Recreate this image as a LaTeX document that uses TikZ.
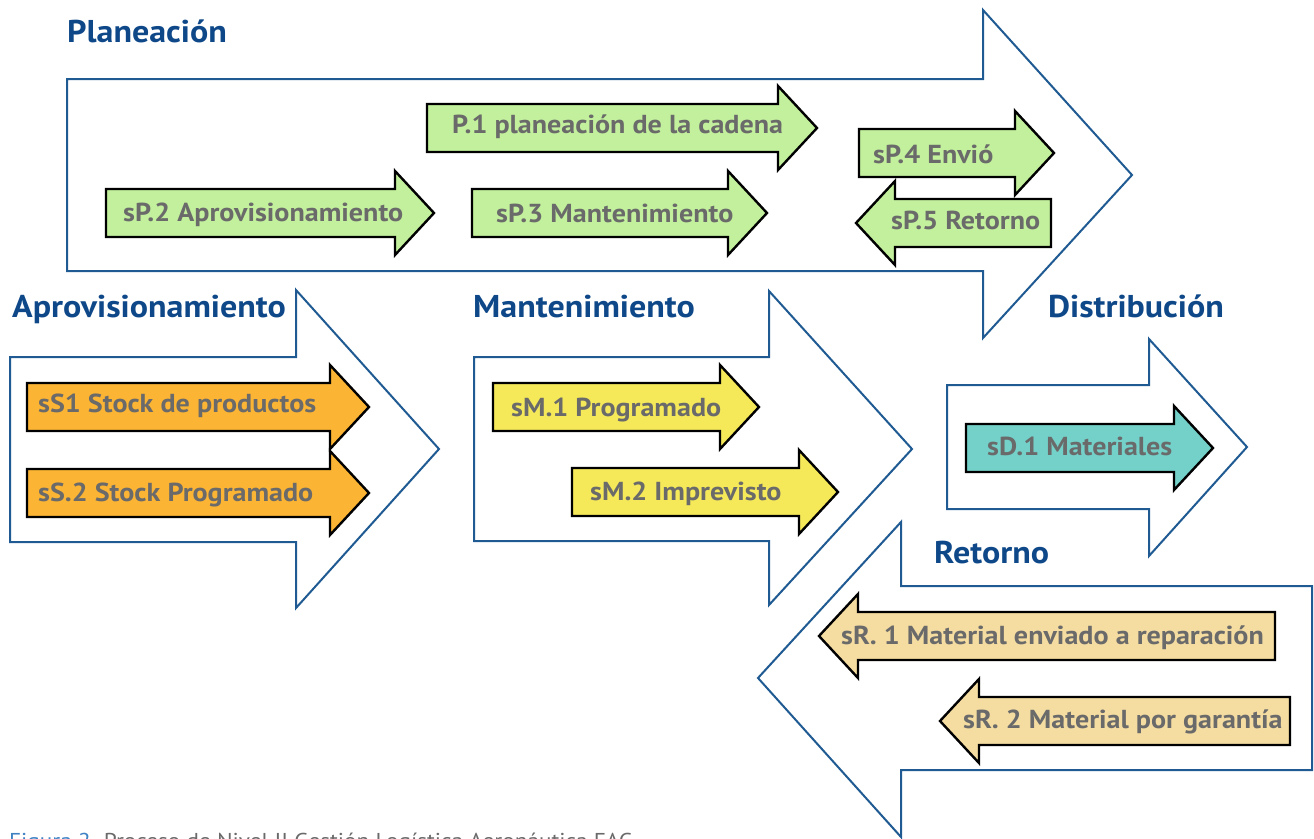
\documentclass[tikz,border=0pt]{standalone}
\usepackage{fontspec}
\setmainfont{PT Sans}[FakeStretch=1.08]
\usetikzlibrary{arrows.meta}
\definecolor{frame}{HTML}{1F5B92}
\definecolor{titleblue}{HTML}{0E4888}
\definecolor{textgray}{HTML}{6A6A6A}
\definecolor{leaf}{HTML}{C2F09C}
\definecolor{amber}{HTML}{FBB434}
\definecolor{lemon}{HTML}{F5E95A}
\definecolor{aqua}{HTML}{74D1C9}
\definecolor{sand}{HTML}{F5DDA2}
\definecolor{capblue}{HTML}{3E82C4}
% small process arrows: start x, head x, centre y, fill
\newcommand{\procright}[4]{\draw[tipbox,fill=#4] (#1,#3-24) -- (#2,#3-24) -- (#2,#3-42) -- (#2+39,#3) -- (#2,#3+42) -- (#2,#3+24) -- (#1,#3+24) -- cycle;}
\newcommand{\procleft}[4]{\draw[tipbox,fill=#4] (#1,#3-24) -- (#2,#3-24) -- (#2,#3-42) -- (#2-39,#3) -- (#2,#3+42) -- (#2,#3+24) -- (#1,#3+24) -- cycle;}

\begin{document}
\begin{tikzpicture}[x=1pt,y=-1pt,
  bigbox/.style={draw=frame,line width=2pt,line join=miter},
  tipbox/.style={draw=black,line width=2.4pt,line join=miter},
  head/.style={anchor=base west,inner sep=0pt,text=titleblue,font=\bfseries\fontsize{31.5}{32}\selectfont},
  lbl/.style={anchor=base west,inner sep=0pt,text=textgray,font=\bfseries\fontsize{26}{26}\selectfont}]
\useasboundingbox (0,0) rectangle (1314,838);
\clip (0,0) rectangle (1314,838);

% stage outlines
\draw[bigbox] (67,79) -- (983,79) -- (983,10) -- (1132,175) -- (983,338) -- (983,271) -- (67,271) -- cycle;
\draw[bigbox] (10,357) -- (296,357) -- (296,290) -- (439,449) -- (296,608) -- (296,542) -- (10,542) -- cycle;
\draw[bigbox] (474,357) -- (769,357) -- (769,291) -- (912,449) -- (769,605) -- (769,541) -- (474,541) -- cycle;
\draw[bigbox] (947,385) -- (1149,385) -- (1149,339) -- (1247,447) -- (1149,556) -- (1149,509) -- (947,509) -- cycle;
\draw[bigbox] (1312,586) -- (901,586) -- (901,522) -- (758,678) -- (901,837) -- (901,770) -- (1312,770) -- cycle;

\node[head] (plan) at (67,42) {Planeación};
\node[head] (aprov) at (12,317) {Aprovisionamiento};
\node[head] (mant) at (473,317) {Mantenimiento};
\node[head] (dist) at (1048,317) {Distribución};
\node[head] (ret) at (934,563) {Retorno};

% planeacion
\procright{427}{778}{128}{leaf}
\procright{106}{395}{213}{leaf}
\procright{472}{728}{213}{leaf}
\procright{859}{1015}{153}{leaf}
\procleft{1051}{895}{223}{leaf}
\node[lbl] (p1) at (452,133) {P.1 planeación de la cadena};
\node[lbl] (sp2) at (123,221) {sP.2 Aprovisionamiento};
\node[lbl] (sp3) at (496,222) {sP.3 Mantenimiento};
\node[lbl] (sp4) at (873,163) {sP.4 Envió};
\node[lbl] (sp5) at (891,229) {sP.5 Retorno};

% aprovisionamiento, mantenimiento, distribucion
\procright{27}{330}{407}{amber}
\procright{27}{330}{493}{amber}
\procright{493}{720}{407}{lemon}
\procright{572}{799}{492}{lemon}
\procright{966}{1174}{448}{aqua}
\node[lbl] (ss1) at (38,412) {sS1 Stock de productos};
\node[lbl] (ss2) at (38,501) {sS.2 Stock Programado};
\node[lbl] (sm1) at (511,416) {sM.1 Programado};
\node[lbl] (sm2) at (590,500) {sM.2 Imprevisto};
\node[lbl] (sd1) at (987,455) {sD.1 Materiales};

% retorno
\procleft{1275}{858}{636}{sand}
\procleft{1290}{979}{721}{sand}
\node[lbl] (sr1) at (841,644) {sR. 1 Material enviado a reparación};
\node[lbl] (sr2) at (963,728) {sR. 2 Material por garantía};

\node[anchor=base west,inner sep=0pt,text=textgray,font=\fontsize{21.5}{22}\selectfont] (cap) at (9,848) {\textcolor{capblue}{Figura 2.} Proceso de Nivel II Gestión Logística Aeronáutica FAC};
\end{tikzpicture}
\end{document}
